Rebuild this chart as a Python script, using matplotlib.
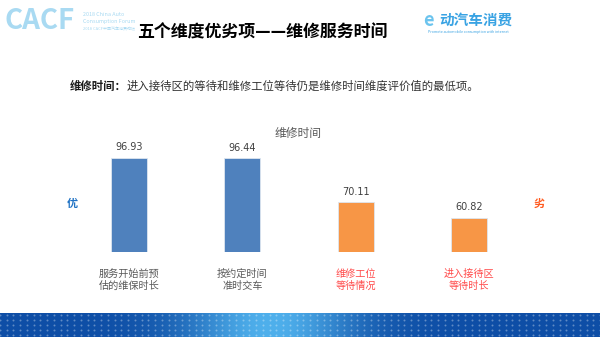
import matplotlib
matplotlib.use("Agg")
import matplotlib.pyplot as plt
import numpy as np

plt.rcParams['font.family'] = ['Noto Sans CJK SC', 'DejaVu Sans']

categories = ["服务开始前预\n估的维保时长", "按约定时间\n准时交车", "维修工位\n等待情况", "进入接待区\n等待时长"]
values = [96.93, 96.44, 70.11, 60.82]
bar_colors = ["#4F81BD", "#4F81BD", "#F79646", "#F79646"]
label_colors = ["#595959", "#595959", "#FF4B4B", "#FF4B4B"]

W, H = 600, 337
fig = plt.figure(figsize=(6, 3.37), dpi=100)
fig.patch.set_facecolor("white")

def fx(px): return px / W
def fy(py): return 1 - py / H

# Bottom band
band = fig.add_axes([0, 0, 1, (H - 313) / H])
grad = np.linspace(0, 1, 300)
g = np.exp(-((grad - 0.45) ** 2) / 0.02)
c0 = np.array([0x0E, 0x4E, 0xA6]) / 255
c1 = np.array([0x4F, 0xB0, 0xEC]) / 255
img = (c0[None, :] * (1 - g[:, None]) + c1[None, :] * g[:, None])[None, :, :]
img = np.repeat(img, 10, axis=0)
band.imshow(img, aspect="auto", extent=[0, 1, 0, 1])
xx, yy = np.meshgrid(np.linspace(0, 1, 90), np.linspace(0.1, 0.9, 5))
band.scatter(xx.ravel(), yy.ravel(), s=2, color="white", alpha=0.35, lw=0)
band.set_xlim(0, 1); band.set_ylim(0, 1)
band.axis("off")

# Main chart axes
ax_bottom = 252.3
ax_top = 140
ymin = 40
px_per_unit = 1.662
ymax = ymin + (ax_bottom - ax_top) / px_per_unit
left = 129 - 56.7
right = 469 + 56.7
ax = fig.add_axes([fx(left), fy(ax_bottom), fx(right - left), (ax_bottom - ax_top) / H])
x = np.arange(len(values))
ax.bar(x, [v - ymin for v in values], bottom=ymin, width=0.317, color=bar_colors,
       edgecolor="#DDE6F0", linewidth=0.6)
for xi, v in zip(x, values):
    ax.text(xi, v + 6.2, f"{v:.2f}", ha="center", va="center", fontsize=7,
            color="#404040", family=["DejaVu Sans"])
ax.set_xlim(-0.5, 3.5)
ax.set_ylim(ymin, ymax)
ax.axis("off")

# Category labels
for xi, lab, col in zip(x, categories, label_colors):
    ax.annotate(lab, xy=(xi, ymin), xycoords="data", xytext=(0, -12),
                textcoords="offset points", ha="center", va="top", fontsize=7.3,
                color=col, linespacing=1.25)

# Chart title
fig.text(fx(298), fy(133.5), "维修时间", ha="center", va="center", fontsize=8.5, color="#595959")

# 优 / 劣
fig.text(fx(72), fy(203), "优", ha="center", va="center", fontsize=8, color="#1F72C4", weight="bold")
fig.text(fx(539), fy(203), "劣", ha="center", va="center", fontsize=8, color="#FF5A1F", weight="bold")

# Main title
fig.text(fx(262), fy(32), "五个维度优劣项——维修服务时间", ha="center", va="center",
         fontsize=12.2, weight="heavy", color="black")

# Subtitle
t1 = fig.text(fx(70), fy(86), "维修时间：", ha="left", va="center", fontsize=8.2,
              weight="bold", color="#1a1a1a")
fig.canvas.draw()
bb = t1.get_window_extent()
fig.text(bb.x1 / fig.dpi / 6, fy(86), "进入接待区的等待和维修工位等待仍是维修时间维度评价值的最低项。",
         ha="left", va="center", fontsize=8.2, color="#333333")

# Top-left logo
logo_c = "#A9DAF2"
fig.text(fx(5), fy(21), "CACF", ha="left", va="center", fontsize=20, weight="bold", color=logo_c)
fig.text(fx(83), fy(14), "2018 China Auto", ha="left", va="center", fontsize=3.9, color=logo_c)
fig.text(fx(83), fy(22), "Consumption Forum", ha="left", va="center", fontsize=3.9, color=logo_c)
fig.text(fx(83), fy(29), "2018 CACF中国汽车消费论坛", ha="left", va="center", fontsize=2.9, color=logo_c)

# Top-right logo
fig.text(fx(423), fy(20), "e", ha="left", va="center", fontsize=13, color="#6CC4EE", weight="bold")
fig.text(fx(439), fy(20), "动汽车消费", ha="left", va="center", fontsize=10.5, weight="bold", color="#3AA3E3")
fig.text(fx(428), fy(32), "Promote automobile consumption with internet", ha="left", va="center",
         fontsize=2.6, color="#3AA3E3")

fig.savefig("out.png", dpi=100, facecolor="white")
